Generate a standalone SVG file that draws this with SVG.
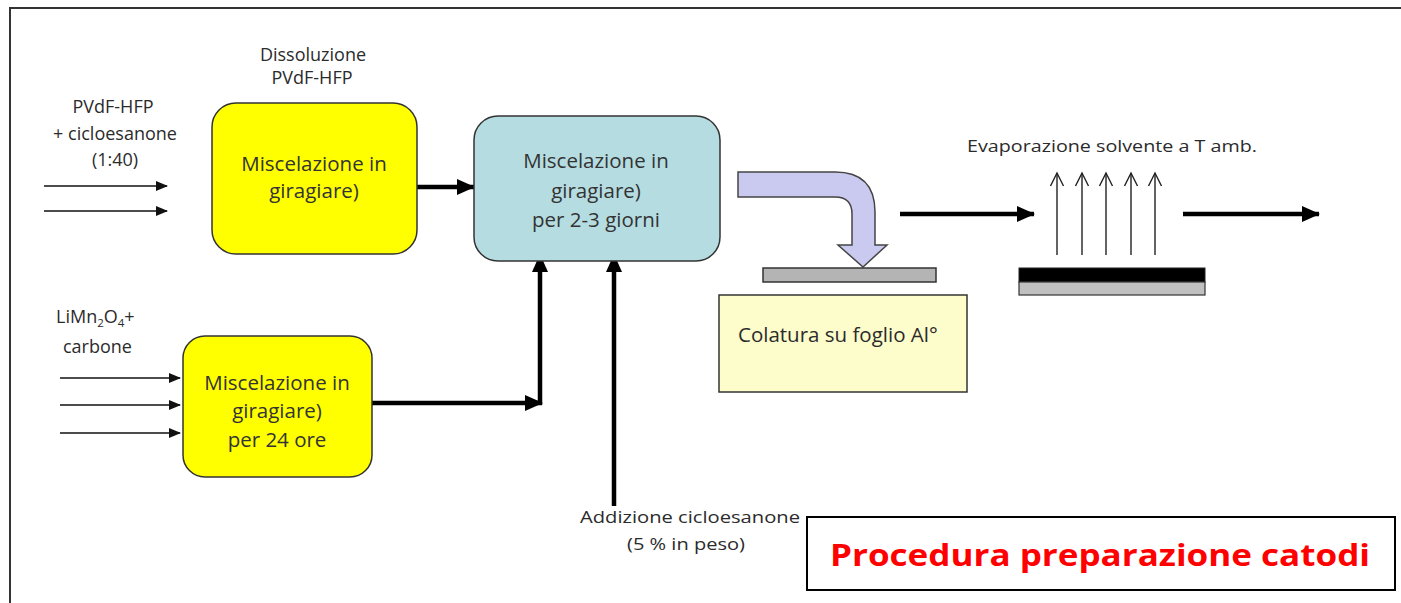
<svg xmlns="http://www.w3.org/2000/svg" width="1401" height="603" viewBox="0 0 1401 603">
<defs>
<style>
.lbl{font-family:"Open Sans","Noto Sans","Liberation Sans",sans-serif;fill:#2b2b2b;}
.box{font-family:"Open Sans","Noto Sans","Liberation Sans",sans-serif;fill:#333;font-size:20.5px;text-anchor:middle;}
.thin{stroke:#111;stroke-width:1.6;fill:none;}
.thick{stroke:#000;stroke-width:4.5;fill:none;}
.evap{stroke:#222;stroke-width:1.4;fill:none;}
</style>
<marker id="ah" markerUnits="userSpaceOnUse" markerWidth="12" markerHeight="10" refX="11" refY="5" orient="auto"><path d="M0,0 L12,5 L0,10 Z" fill="#111"/></marker>
<marker id="ahb" markerUnits="userSpaceOnUse" markerWidth="18" markerHeight="16" refX="17" refY="8" orient="auto"><path d="M0,0 L18,8 L0,16 Z" fill="#000"/></marker>
<marker id="aho" markerUnits="userSpaceOnUse" markerWidth="16" markerHeight="16" refX="14" refY="8" orient="auto"><path d="M1,1.5 L14,8 L1,14.5" fill="none" stroke="#222" stroke-width="1.4"/></marker>
</defs>
<rect width="1401" height="603" fill="#fff"/>
<path d="M10,603 L10,8 L1401,8" fill="none" stroke="#333" stroke-width="2"/>

<g id="connectors">
<line class="thin" x1="44" y1="186" x2="167" y2="186" marker-end="url(#ah)"/>
<line class="thin" x1="44" y1="211" x2="167" y2="211" marker-end="url(#ah)"/>
<line class="thin" x1="60" y1="378" x2="180" y2="378" marker-end="url(#ah)"/>
<line class="thin" x1="60" y1="405" x2="180" y2="405" marker-end="url(#ah)"/>
<line class="thin" x1="60" y1="433" x2="180" y2="433" marker-end="url(#ah)"/>
<line class="thick" x1="417" y1="187" x2="474" y2="187" marker-end="url(#ahb)"/>
<line class="thick" x1="368" y1="403" x2="542" y2="403" marker-end="url(#ahb)"/>
<line class="thick" x1="540" y1="405" x2="540" y2="255" marker-end="url(#ahb)"/>
<line class="thick" x1="614" y1="506" x2="614" y2="255" marker-end="url(#ahb)"/>
<line class="thick" x1="900" y1="214" x2="1034" y2="214" stroke-width="3.5" marker-end="url(#ahb)"/>
<line class="thick" x1="1183" y1="214" x2="1319" y2="214" stroke-width="3.5" marker-end="url(#ahb)"/>
</g>

<g id="label-pvdf">
<text class="lbl" font-size="18" text-anchor="middle"><tspan x="113" y="113">PVdF-HFP</tspan><tspan x="115" y="140">+ cicloesanone</tspan><tspan x="115" y="166">(1:40)</tspan></text>
</g>
<g id="label-dissoluzione">
<text class="lbl" font-size="18" text-anchor="middle"><tspan x="313" y="61">Dissoluzione</tspan><tspan x="312" y="84">PVdF-HFP</tspan></text>
</g>
<g id="node-mix1">
<rect x="212" y="103" width="205" height="151" rx="24" fill="#ffff00" stroke="#333" stroke-width="1.5"/>
<text class="box"><tspan x="314" y="171">Miscelazione in</tspan><tspan x="314" y="198">giragiare)</tspan></text>
</g>
<g id="node-mix2">
<rect x="474" y="116" width="246" height="145" rx="24" fill="#b5dde1" stroke="#333" stroke-width="1.5"/>
<text class="box"><tspan x="596" y="168">Miscelazione in</tspan><tspan x="596" y="198">giragiare)</tspan><tspan x="596" y="227">per 2-3 giorni</tspan></text>
</g>
<g id="label-limn">
<text class="lbl" font-size="18"><tspan x="56" y="323">LiMn<tspan font-size="11.5" dy="4">2</tspan><tspan dy="-4">O</tspan><tspan font-size="11.5" dy="4">4</tspan><tspan dy="-4">+</tspan></tspan><tspan x="63" y="353">carbone</tspan></text>
</g>
<g id="node-mix3">
<rect x="183" y="336" width="189" height="141" rx="22" fill="#ffff00" stroke="#333" stroke-width="1.5"/>
<text class="box"><tspan x="277" y="390">Miscelazione in</tspan><tspan x="277" y="418">giragiare)</tspan><tspan x="277" y="447">per 24 ore</tspan></text>
</g>
<g id="label-addizione">
<text class="lbl" font-size="16.5" text-anchor="middle"><tspan x="690" y="523" textLength="220" lengthAdjust="spacingAndGlyphs">Addizione cicloesanone</tspan><tspan x="686" y="550" textLength="118" lengthAdjust="spacingAndGlyphs">(5 % in peso)</tspan></text>
</g>
<g id="casting-arrow">
<path d="M738,172 L835,172 Q875,172 875,212 L875,245 L887,245 L863,267 L838,245 L852,245 L852,214 Q852,197 835,197 L738,197 Z" fill="#cacaf0" stroke="#444" stroke-width="1.5"/>
<rect x="763" y="268" width="173" height="14" fill="#b4b4b4" stroke="#333" stroke-width="1.5"/>
</g>
<g id="node-colatura">
<rect x="719" y="295" width="248" height="97" fill="#fdfccb" stroke="#333" stroke-width="1.5"/>
<text class="lbl" font-size="20.5" x="738" y="342" fill="#333">Colatura su foglio Al°</text>
</g>
<g id="evaporazione">
<text class="lbl" font-size="16.5" x="967" y="152" textLength="290" lengthAdjust="spacingAndGlyphs">Evaporazione solvente a T amb.</text>
<line class="evap" x1="1057" y1="255" x2="1057" y2="173" marker-end="url(#aho)"/>
<line class="evap" x1="1082" y1="255" x2="1082" y2="173" marker-end="url(#aho)"/>
<line class="evap" x1="1106" y1="255" x2="1106" y2="173" marker-end="url(#aho)"/>
<line class="evap" x1="1131" y1="255" x2="1131" y2="173" marker-end="url(#aho)"/>
<line class="evap" x1="1155" y1="255" x2="1155" y2="173" marker-end="url(#aho)"/>
<rect x="1019" y="268" width="186" height="14" fill="#000" stroke="#222" stroke-width="1"/>
<rect x="1019" y="282" width="186" height="13" fill="#c0c0c0" stroke="#333" stroke-width="1.2"/>
</g>
<g id="title">
<rect x="807" y="517" width="588" height="73" fill="#fff" stroke="#000" stroke-width="2"/>
<text x="1100" y="566" text-anchor="middle" font-family="'Open Sans','Liberation Sans',sans-serif" font-weight="bold" font-size="31" fill="#ff0000" textLength="540" lengthAdjust="spacingAndGlyphs">Procedura preparazione catodi</text>
</g>
</svg>
